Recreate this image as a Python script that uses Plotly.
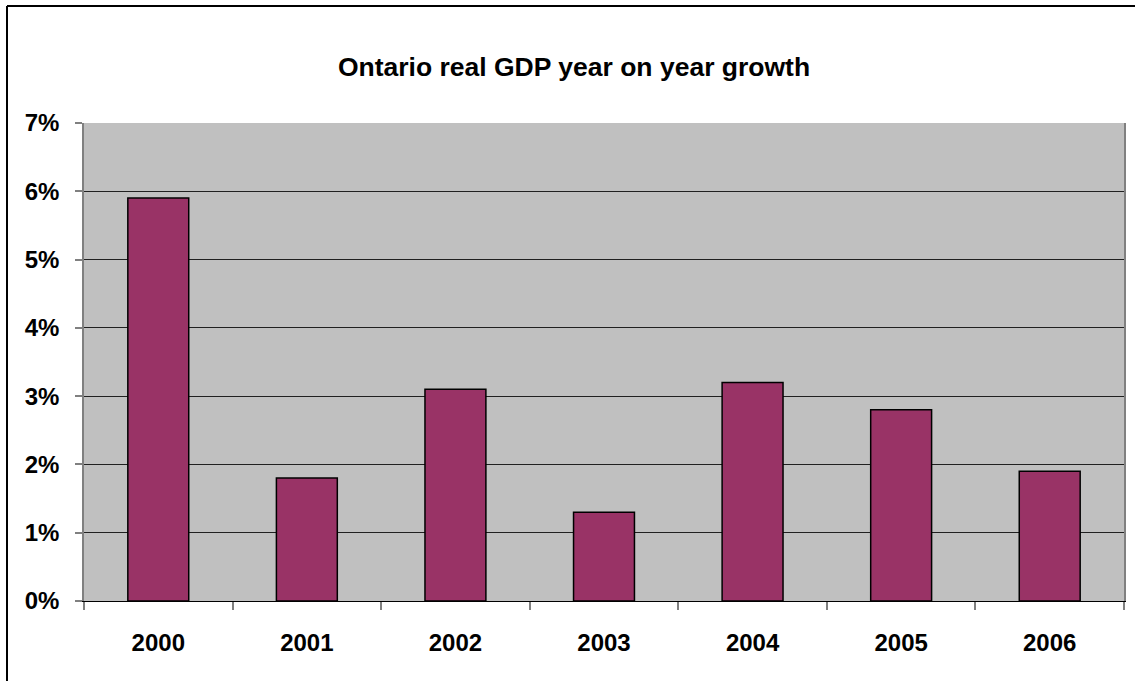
import plotly.graph_objects as go

years = ["2000", "2001", "2002", "2003", "2004", "2005", "2006"]
growth = [0.059, 0.018, 0.031, 0.013, 0.032, 0.028, 0.019]
y_ticks = [0, 0.01, 0.02, 0.03, 0.04, 0.05, 0.06, 0.07]
y_labels = ["0%", "1%", "2%", "3%", "4%", "5%", "6%", "7%"]

W, H = 1135, 681
L, R, T, B = 84, 11, 123, 80
PW, PH = W - L - R, H - T - B

fig = go.Figure(go.Bar(
    x=years, y=growth,
    marker=dict(color="#993366", line=dict(color="black", width=1.5)),
    width=0.41,
))

font = dict(family="Liberation Sans, Arial, sans-serif", size=24, color="black")

fig.update_layout(
    width=W, height=H,
    margin=dict(l=L, r=R, t=T, b=B, autoexpand=False),
    paper_bgcolor="white",
    plot_bgcolor="#C0C0C0",
    showlegend=False,
    title=dict(text="<b>Ontario real GDP year on year growth</b>",
               x=(574 - L) / PW, xref="paper", xanchor="center",
               y=1 - 67 / H, yanchor="middle",
               font=dict(family="Liberation Sans, Arial, sans-serif", size=26.5, color="black")),
    xaxis=dict(
        type="category", tickson="boundaries", ticks="outside", ticklen=8,
        tickcolor="#808080", tickwidth=1.5,
        showgrid=False, showline=True, linecolor="black", linewidth=1,
        tickfont=font, ticklabelstandoff=20,
        tickprefix="<b>", ticksuffix="</b>",
    ),
    yaxis=dict(
        range=[0, 0.07], tickvals=y_ticks, ticktext=["<b>%s</b>" % t for t in y_labels],
        ticks="outside", ticklen=7, tickcolor="#808080", tickwidth=1.5,
        showgrid=True, gridcolor="#202020", gridwidth=1,
        showline=True, linecolor="#808080", linewidth=1.5, mirror=True,
        zeroline=False, tickfont=font, ticklabelstandoff=11,
    ),
    shapes=[
        dict(type="line", xref="paper", yref="paper",
             x0=-(L - 7) / PW, x1=-(L - 7) / PW,
             y0=-(B + 5) / PH, y1=1 + (T - 6) / PH,
             line=dict(color="black", width=2)),
        dict(type="line", xref="paper", yref="paper",
             x0=-(L - 7) / PW, x1=1 + (R + 5) / PW,
             y0=1 + (T - 6) / PH, y1=1 + (T - 6) / PH,
             line=dict(color="black", width=2)),
    ],
)

fig.write_html("out.html", config={"displayModeBar": False},
               post_script="document.body.style.margin='0';document.body.style.overflow='hidden';")
